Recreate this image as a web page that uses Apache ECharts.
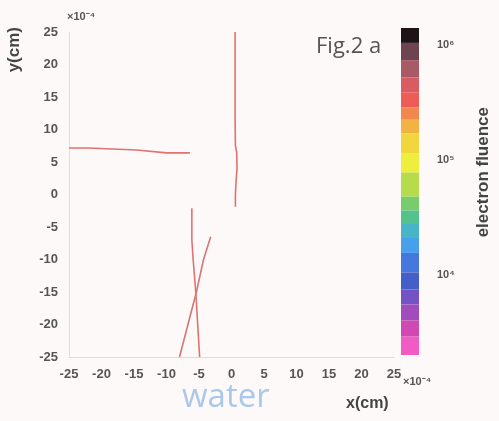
<!DOCTYPE html>
<html>
<head>
<meta charset="utf-8">
<script src="https://cdn.jsdelivr.net/npm/echarts@6/dist/echarts.min.js"></script>
<style>
html,body{margin:0;padding:0;background:#fdf9f9;}
#chart{width:499px;height:421px;}
</style>
</head>
<body>
<div id="chart"></div>
<script>
// ---- data (units: cm x 10^-4) ----
const xTicks = [-25, -20, -15, -10, -5, 0, 5, 10, 15, 20, 25];
const yTicks = [-25, -20, -15, -10, -5, 0, 5, 10, 15, 20, 25];

const track1X = [-25, -22, -21.8, -14.6, -14.4, -10, -6.4];
const track1Y = [7.15, 7.15, 6.85, 6.85, 6.55, 6.4, 6.4];

const track2X = [0.55, 0.55, 0.6, 0.8, 0.85, 0.7, 0.6, 0.6];
const track2Y = [25, 12, 7.5, 6.5, 4, 2, 0, -1.9];

const track3X = [-6.1, -6.1, -5.9, -5.5, -5.2, -4.9];
const track3Y = [-2.1, -7, -10, -15, -20, -25];

const track4X = [-3.2, -4.3, -5.4, -6.7, -8.0];
const track4Y = [-6.5, -10, -15, -20, -25];

// colorbar (log10 of electron fluence)
const cbEdges = [6.15, 6.02, 5.87, 5.72, 5.59, 5.46, 5.35, 5.23, 5.06, 4.89, 4.68, 4.56, 4.45, 4.32, 4.19, 4.02, 3.87, 3.74, 3.60, 3.46, 3.30];
const cbColors = ['#1e1418', '#6e4450', '#a85a66', '#d85c62', '#ee5c58', '#f2884e', '#f2b244', '#f2d63e', '#eeee3c', '#b6dc4c',
                  '#78cc6c', '#54c28c', '#48b4c8', '#46a0ec', '#4478dc', '#4460c8', '#7454c4', '#a04cbc', '#d048b4', '#f05cc4'];
const cbTicks = [4, 5, 6];

const supMap = {'4': '⁴', '5': '⁵', '6': '⁶'};
const zip = (a, b) => a.map((v, i) => [v, b[i]]);

const cbData = cbColors.map((c, i) => [cbEdges[i + 1], cbEdges[i], i]);

const chart = echarts.init(document.getElementById('chart'), null, {renderer: 'canvas'});
const labelFont = {color: '#555', fontWeight: 'bold', fontSize: 13, fontFamily: 'Liberation Sans'};
const trackStyle = {color: '#e07272', width: 1.6};

chart.setOption({
  backgroundColor: '#fdf9f9',
  animation: false,
  grid: [
    {left: 69, top: 32, width: 325, height: 325},
    {left: 401, top: 28, width: 18, height: 327}
  ],
  xAxis: [
    {type: 'value', gridIndex: 0, min: -25, max: 25, interval: 5,
     axisLine: {onZero: false, lineStyle: {color: '#e6d6d8', width: 1}}, axisTick: {show: false},
     splitLine: {show: false},
     axisLabel: Object.assign({margin: 11}, labelFont)},
    {type: 'value', gridIndex: 1, min: 0, max: 1, show: false}
  ],
  yAxis: [
    {type: 'value', gridIndex: 0, min: -25, max: 25, interval: 5,
     axisLine: {onZero: false, lineStyle: {color: '#eadcdc', width: 1}}, axisTick: {show: false},
     splitLine: {show: false},
     axisLabel: Object.assign({margin: 11}, labelFont)},
    {type: 'value', gridIndex: 1, min: 3.3, max: 6.15, position: 'right',
     axisLine: {show: false}, axisTick: {show: false}, splitLine: {show: false},
     axisLabel: Object.assign({}, labelFont, {margin: 18, fontSize: 11, customValues: cbTicks,
       formatter: v => '10' + (supMap[String(v)] || '')})}
  ],
  series: [
    {type: 'line', xAxisIndex: 0, yAxisIndex: 0, data: zip(track1X, track1Y), showSymbol: false, lineStyle: trackStyle},
    {type: 'line', xAxisIndex: 0, yAxisIndex: 0, data: zip(track2X, track2Y), showSymbol: false, lineStyle: trackStyle},
    {type: 'line', xAxisIndex: 0, yAxisIndex: 0, data: zip(track3X, track3Y), showSymbol: false, lineStyle: trackStyle},
    {type: 'line', xAxisIndex: 0, yAxisIndex: 0, data: zip(track4X, track4Y), showSymbol: false, lineStyle: {color: '#d87474', width: 1.6}},
    {type: 'custom', xAxisIndex: 1, yAxisIndex: 1, data: cbData,
     renderItem: (params, api) => {
       const p1 = api.coord([0, api.value(1)]);
       const p2 = api.coord([1, api.value(0)]);
       return {type: 'rect', shape: {x: p1[0], y: p1[1], width: p2[0] - p1[0], height: p2[1] - p1[1]},
               style: {fill: cbColors[api.value(2)]}};
     }}
  ],
  graphic: [
    {type: 'text', left: 6, top: 27, rotation: Math.PI / 2,
     style: {text: 'y(cm)', fill: '#444', font: 'bold 17px "Liberation Sans"'}},
    {type: 'text', left: 67, top: 11, style: {text: '×10⁻⁴', fill: '#555', font: 'bold 11px "Liberation Sans"'}},
    {type: 'text', left: 403, top: 376, style: {text: '×10⁻⁴', fill: '#555', font: 'bold 11px "Liberation Sans"'}},
    {type: 'text', left: 346, top: 396, style: {text: 'x(cm)', fill: '#444', font: 'bold 16px "Liberation Sans"'}},
    {type: 'text', left: 316, top: 36, style: {text: 'Fig.2 a', fill: '#555', font: '22px "Open Sans"'}},
    {type: 'text', left: 475, top: 107, rotation: Math.PI / 2,
     style: {text: 'electron fluence', fill: '#444', font: 'bold 17px "Liberation Sans"'}},
    {type: 'text', left: 182, top: 381, style: {text: 'water', fill: '#a9c8ea', font: '33px "Open Sans"'}}
  ]
});
</script>
</body>
</html>
